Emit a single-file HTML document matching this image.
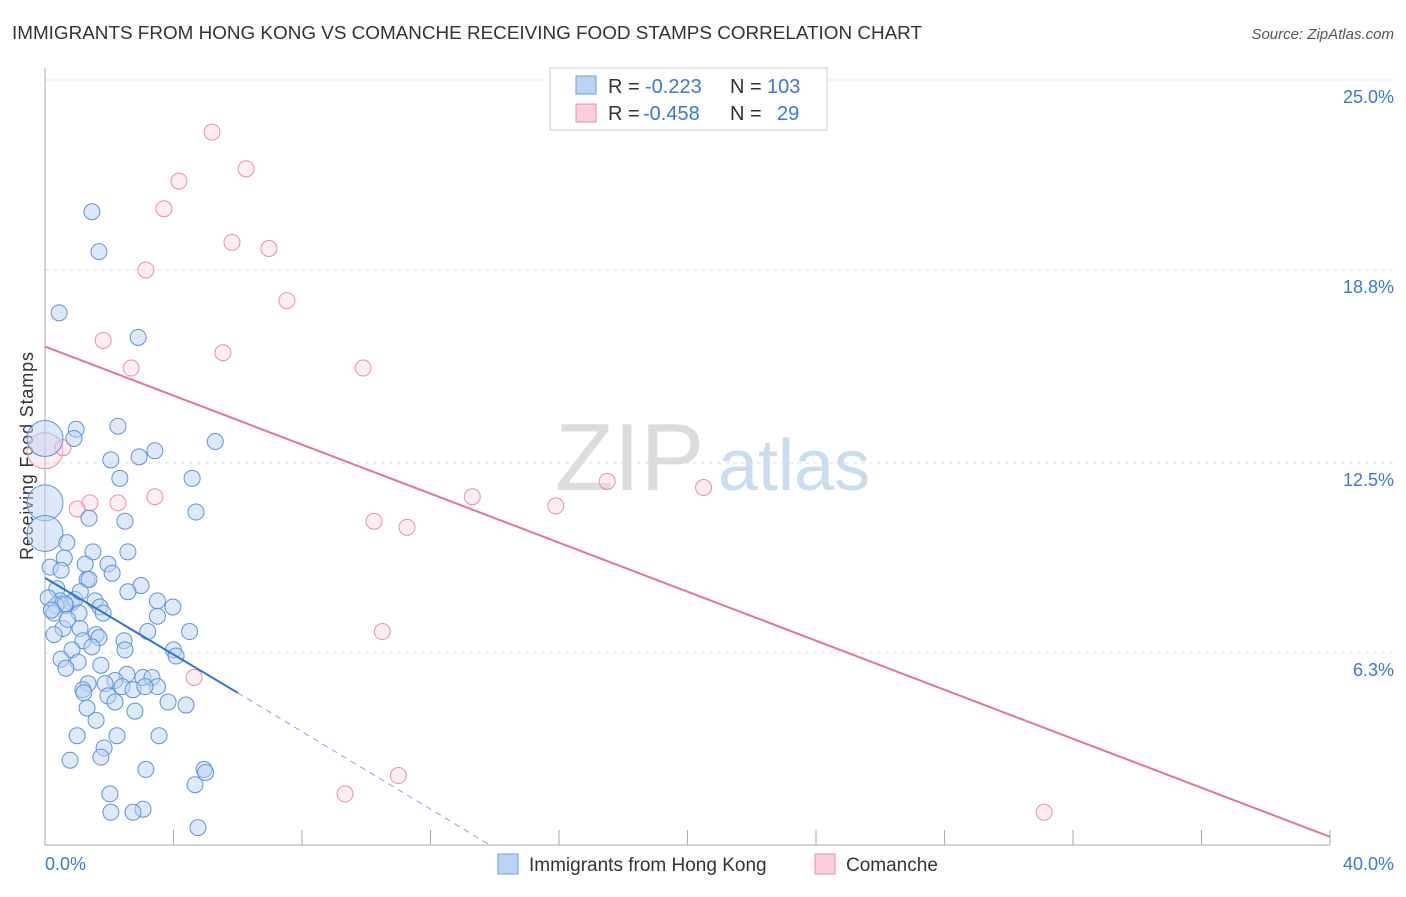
<!DOCTYPE html>
<html><head><meta charset="utf-8"><style>
body{margin:0;background:#fff;font-family:"Liberation Sans",sans-serif}
svg text{font-family:"Liberation Sans",sans-serif}
</style></head><body>
<svg id="c" width="1406" height="892">
<text x="12" y="39" font-size="18.5" fill="#333" textLength="910" lengthAdjust="spacingAndGlyphs">IMMIGRANTS FROM HONG KONG VS COMANCHE RECEIVING FOOD STAMPS CORRELATION CHART</text>
<text x="1394" y="39" font-size="15" fill="#555" font-style="italic" text-anchor="end">Source: ZipAtlas.com</text>
<text x="33" y="456" font-size="18" fill="#333" transform="rotate(-90 33 456)" text-anchor="middle" textLength="208">Receiving Food Stamps</text>
<g><text x="555" y="490" font-size="96" fill="#dcdcdc" font-family="Liberation Serif,serif">ZIP</text><text x="718" y="490" font-size="72" fill="#c9dcf0">atlas</text></g>
<g id="grid"></g><g id="marks"></g>
<g>
<rect x="550" y="68" width="277" height="62" fill="#fff" stroke="#ccc"/>
<rect x="576" y="76" width="20" height="18" fill="#bcd4f4" stroke="#6f9ee0"/>
<text x="608" y="93" font-size="20" fill="#333">R =</text>
<text x="645" y="93" font-size="20" fill="#3a78d8">-0.223</text>
<text x="730" y="93" font-size="20" fill="#333">N =</text>
<text x="767" y="93" font-size="20" fill="#3a78d8">103</text>
<rect x="576" y="104" width="20" height="18" fill="#f9cfdc" stroke="#eb8eab"/>
<text x="608" y="120" font-size="20" fill="#333">R =</text>
<text x="643" y="120" font-size="20" fill="#3a78d8">-0.458</text>
<text x="730" y="120" font-size="20" fill="#333">N =</text>
<text x="777" y="120" font-size="20" fill="#3a78d8">29</text>
</g>
<g>
<rect x="498" y="854" width="20" height="20" fill="#bcd4f4" stroke="#6f9ee0"/>
<text x="529" y="871" font-size="19" fill="#333">Immigrants from Hong Kong</text>
<rect x="815" y="854" width="20" height="20" fill="#f9cfdc" stroke="#eb8eab"/>
<text x="846" y="871" font-size="19" fill="#333">Comanche</text>
</g>
</svg>
<script>
const yTicks=[25.0,18.8,12.5,6.3];
const yTickLabels=["25.0%","18.8%","12.5%","6.3%"];
const xTickLabels=["0.0%","40.0%"];
const blueX=[1.46,1.68,0.44,2.9,2.27,0.97,0.9,0,5.3,3.42,2.05,2.93,2.33,4.58,0,4.7,1.37,2.49,0,0.68,1.49,2.58,0.6,1.25,1.96,0.16,0.5,2.09,1.31,1.37,2.99,0.37,2.58,0.47,0.84,0.65,0.93,0.34,0.62,0.28,1.56,1.71,1.81,3.5,3.98,3.5,1.06,0.56,1.09,1.59,1.68,3.2,4.5,0.28,2.46,1.18,1.46,0.84,2.49,4.0,4.08,0.5,1.03,1.74,0.65,2.55,3.05,3.33,2.18,1.34,1.87,2.4,2.74,3.5,1.18,3.11,1.21,1.96,2.18,3.83,1.31,4.39,2.8,1.59,1.0,2.24,3.55,1.84,1.74,0.78,3.14,4.95,5.0,4.67,2.02,3.05,2.05,2.74,4.76,0.1,0.2,1.1,0.7];
const blueY=[20.7,19.4,17.4,16.6,13.7,13.6,13.3,13.3,13.2,12.9,12.6,12.7,12.0,12.0,11.2,10.9,10.7,10.6,10.2,9.9,9.6,9.6,9.4,9.2,9.2,9.1,9.0,8.9,8.7,8.7,8.5,8.4,8.3,8.0,7.95,7.85,8.05,7.85,7.9,7.6,8.0,7.8,7.6,8.0,7.8,7.5,7.6,7.1,7.1,6.9,6.8,7.0,7.0,6.9,6.7,6.7,6.5,6.4,6.4,6.4,6.2,6.1,6.0,5.9,5.8,5.6,5.5,5.5,5.4,5.3,5.3,5.2,5.1,5.2,5.1,5.2,5.0,4.9,4.7,4.7,4.5,4.6,4.4,4.1,3.6,3.6,3.6,3.2,2.9,2.8,2.5,2.5,2.4,2.0,1.7,1.2,1.1,1.1,0.6,8.1,7.7,8.3,7.4];
const blueBig=[7,14,18];
const pinkX=[5.2,6.26,4.17,3.7,5.82,6.97,3.14,7.53,1.81,5.54,2.68,9.9,0,0.56,1.4,2.27,3.42,1.0,10.24,11.27,13.3,15.9,17.5,20.5,10.5,4.64,11.0,9.34,31.1];
const pinkY=[23.3,22.1,21.7,20.8,19.7,19.5,18.8,17.8,16.5,16.1,15.6,15.6,12.9,13.0,11.2,11.2,11.4,11.0,10.6,10.4,11.4,11.1,11.9,11.7,7.0,5.5,2.3,1.7,1.1];
const pinkBig=[12];
const blueLine=[[0,8.75],[6.0,5.0]],blueDash=[[6.0,5.0],[13.9,0]];
const pinkLine=[[0,16.3],[40,0.3]];
const NS="http://www.w3.org/2000/svg";
const X=v=>45+v/40*1285, Y=v=>846-v/25*766;
function mk(t,a,p){const e=document.createElementNS(NS,t);for(const k in a)e.setAttribute(k,a[k]);p.appendChild(e);return e;}
const g=document.getElementById('grid'),m=document.getElementById('marks');
yTicks.forEach((t,i)=>{
 const l=mk('line',{x1:45,x2:1394,y1:Y(t),y2:Y(t),stroke:'#ddd','stroke-dasharray':'4,4'},g);
 
 
 const tx=mk('text',{x:1394,y:Y(t)+23,'font-size':18,fill:'#3a78d8','text-anchor':'end'},g);tx.textContent=yTickLabels[i];
 
 
});
const ax=mk('line',{x1:45,x2:1330,y1:845,y2:845,stroke:'#aaa'},g);


const ay=mk('line',{x1:45,x2:45,y1:68,y2:845,stroke:'#aaa'},g);


for(let i=0;i<=10;i++){const t=mk('line',{x1:X(i*4),x2:X(i*4),y1:830,y2:845,stroke:'#aaa'},g);
 
 }
[[0,'start',45],[1,'end',1394]].forEach(([i,a,x])=>{const t=mk('text',{x:x,y:870,'font-size':18,fill:'#3a78d8','text-anchor':a},g);t.textContent=xTickLabels[i];
 
 });
function pts(xs,ys,big,f,s,op,name){xs.forEach((x,i)=>{const c=mk('circle',{cx:X(x),cy:Y(ys[i]),r:big.includes(i)?18:8,fill:f,'fill-opacity':op,stroke:s,'stroke-width':1},m);
 
 });}
pts(pinkX,pinkY,pinkBig,'#f9cfdc','#eb8eab',0.4,'comanche-point');
pts(blueX,blueY,blueBig,'#bcd4f4','#5f92dc',0.5,'hong-kong-point');
function ln(p,s,w,d,name){const l=mk('line',{x1:X(p[0][0]),y1:Y(p[0][1]),x2:X(p[1][0]),y2:Y(p[1][1]),stroke:s,'stroke-width':w},m);if(d)l.setAttribute('stroke-dasharray',d);
 
 }
ln(pinkLine,'#e8729a',2,null,'comanche-trendline');
ln(blueLine,'#2f72d6',2,null,'hong-kong-trendline');
ln(blueDash,'#7fa8e6',1,'6,5','hong-kong-trendline-extension');
</script>
</body></html>
